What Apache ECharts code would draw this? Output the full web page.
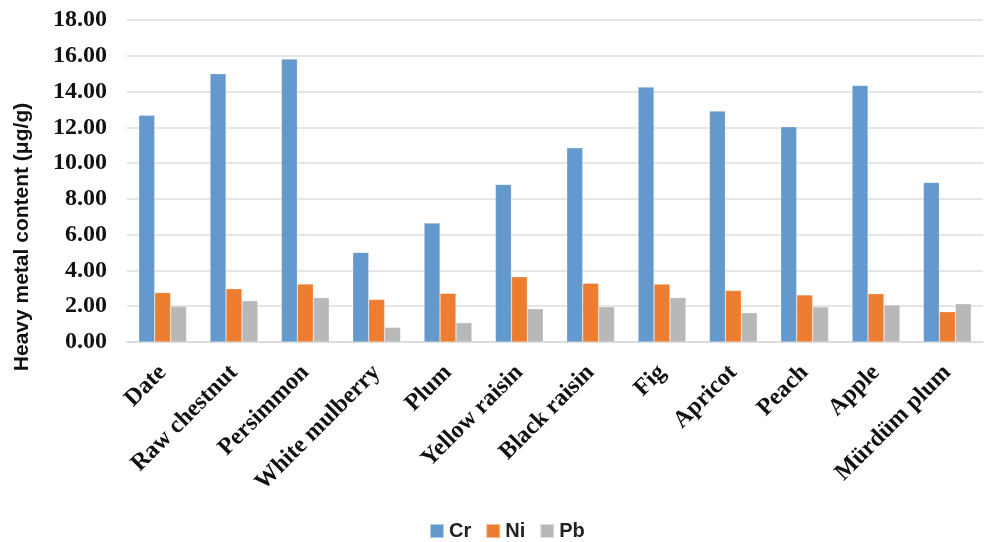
<!DOCTYPE html>
<html>
<head>
<meta charset="utf-8">
<script src="https://cdn.jsdelivr.net/npm/echarts@6/dist/echarts.min.js"></script>
<style>html,body{margin:0;padding:0;background:#fff}#c{width:985px;height:542px}</style>
</head>
<body>
<div id="c"></div>
<script>
const categories = ["Date","Raw chestnut","Persimmon","White mulberry","Plum","Yellow raisin","Black raisin","Fig","Apricot","Peach","Apple","Mürdüm plum"];
const cr = [12.67, 15.00, 15.82, 5.01, 6.65, 8.81, 10.86, 14.25, 12.91, 12.03, 14.34, 8.92];
const ni = [2.76, 2.98, 3.24, 2.38, 2.72, 3.65, 3.28, 3.24, 2.88, 2.63, 2.70, 1.69];
const pb = [1.99, 2.31, 2.48, 0.82, 1.08, 1.86, 1.97, 2.48, 1.64, 1.96, 2.07, 2.14];
const seriesNames = ["Cr","Ni","Pb"];
const colors = ["#6399CD","#ED7D31","#B8B8B8"];
const yAxisTitle = 'Heavy metal content (μg/g)';

const chart = echarts.init(document.getElementById('c'));
const mk = (name, data, color) => ({
  name, type: 'bar', data,
  itemStyle: {color, borderColor: 'rgba(255,255,255,0.5)', borderWidth: 0.5},
  barGap: '0%', barCategoryGap: '33%'
});
chart.setOption({
  animation: false,
  color: colors,
  grid: {left: 127, right: 2, top: 20, bottom: 200},
  legend: {
    top: 516, left: 424, itemWidth: 14, itemHeight: 14, itemGap: 14,
    icon: 'rect',
    textStyle: {fontFamily: 'Liberation Sans', fontWeight: 'bold', fontSize: 20, color: '#222'},
    data: seriesNames
  },
  graphic: [{
    type: 'text', x: 22, y: 237, rotation: Math.PI / 2,
    style: {text: yAxisTitle, textAlign: 'center', textVerticalAlign: 'middle',
      fontFamily: 'Liberation Sans', fontWeight: 'bold', fontSize: 21, fill: '#111'}
  }],
  xAxis: {
    type: 'category', data: categories,
    axisLine: {lineStyle: {color: '#D9D9D9', width: 1.5}},
    axisTick: {show: false},
    axisLabel: {rotate: 45, interval: 0, margin: 27, fontFamily: 'Liberation Serif', fontWeight: 'bold', fontSize: 24, color: '#111'}
  },
  yAxis: {
    type: 'value', min: 0, max: 18, interval: 2,
    axisLine: {show: false}, axisTick: {show: false},
    splitLine: {lineStyle: {color: '#DDDDDD', width: 1.5}},
    axisLabel: {formatter: v => v.toFixed(2), margin: 20, fontFamily: 'Liberation Serif', fontWeight: 'bold', fontSize: 24, color: '#111'}
  },
  series: [mk(seriesNames[0], cr, colors[0]), mk(seriesNames[1], ni, colors[1]), mk(seriesNames[2], pb, colors[2])]
});
</script>
</body>
</html>
